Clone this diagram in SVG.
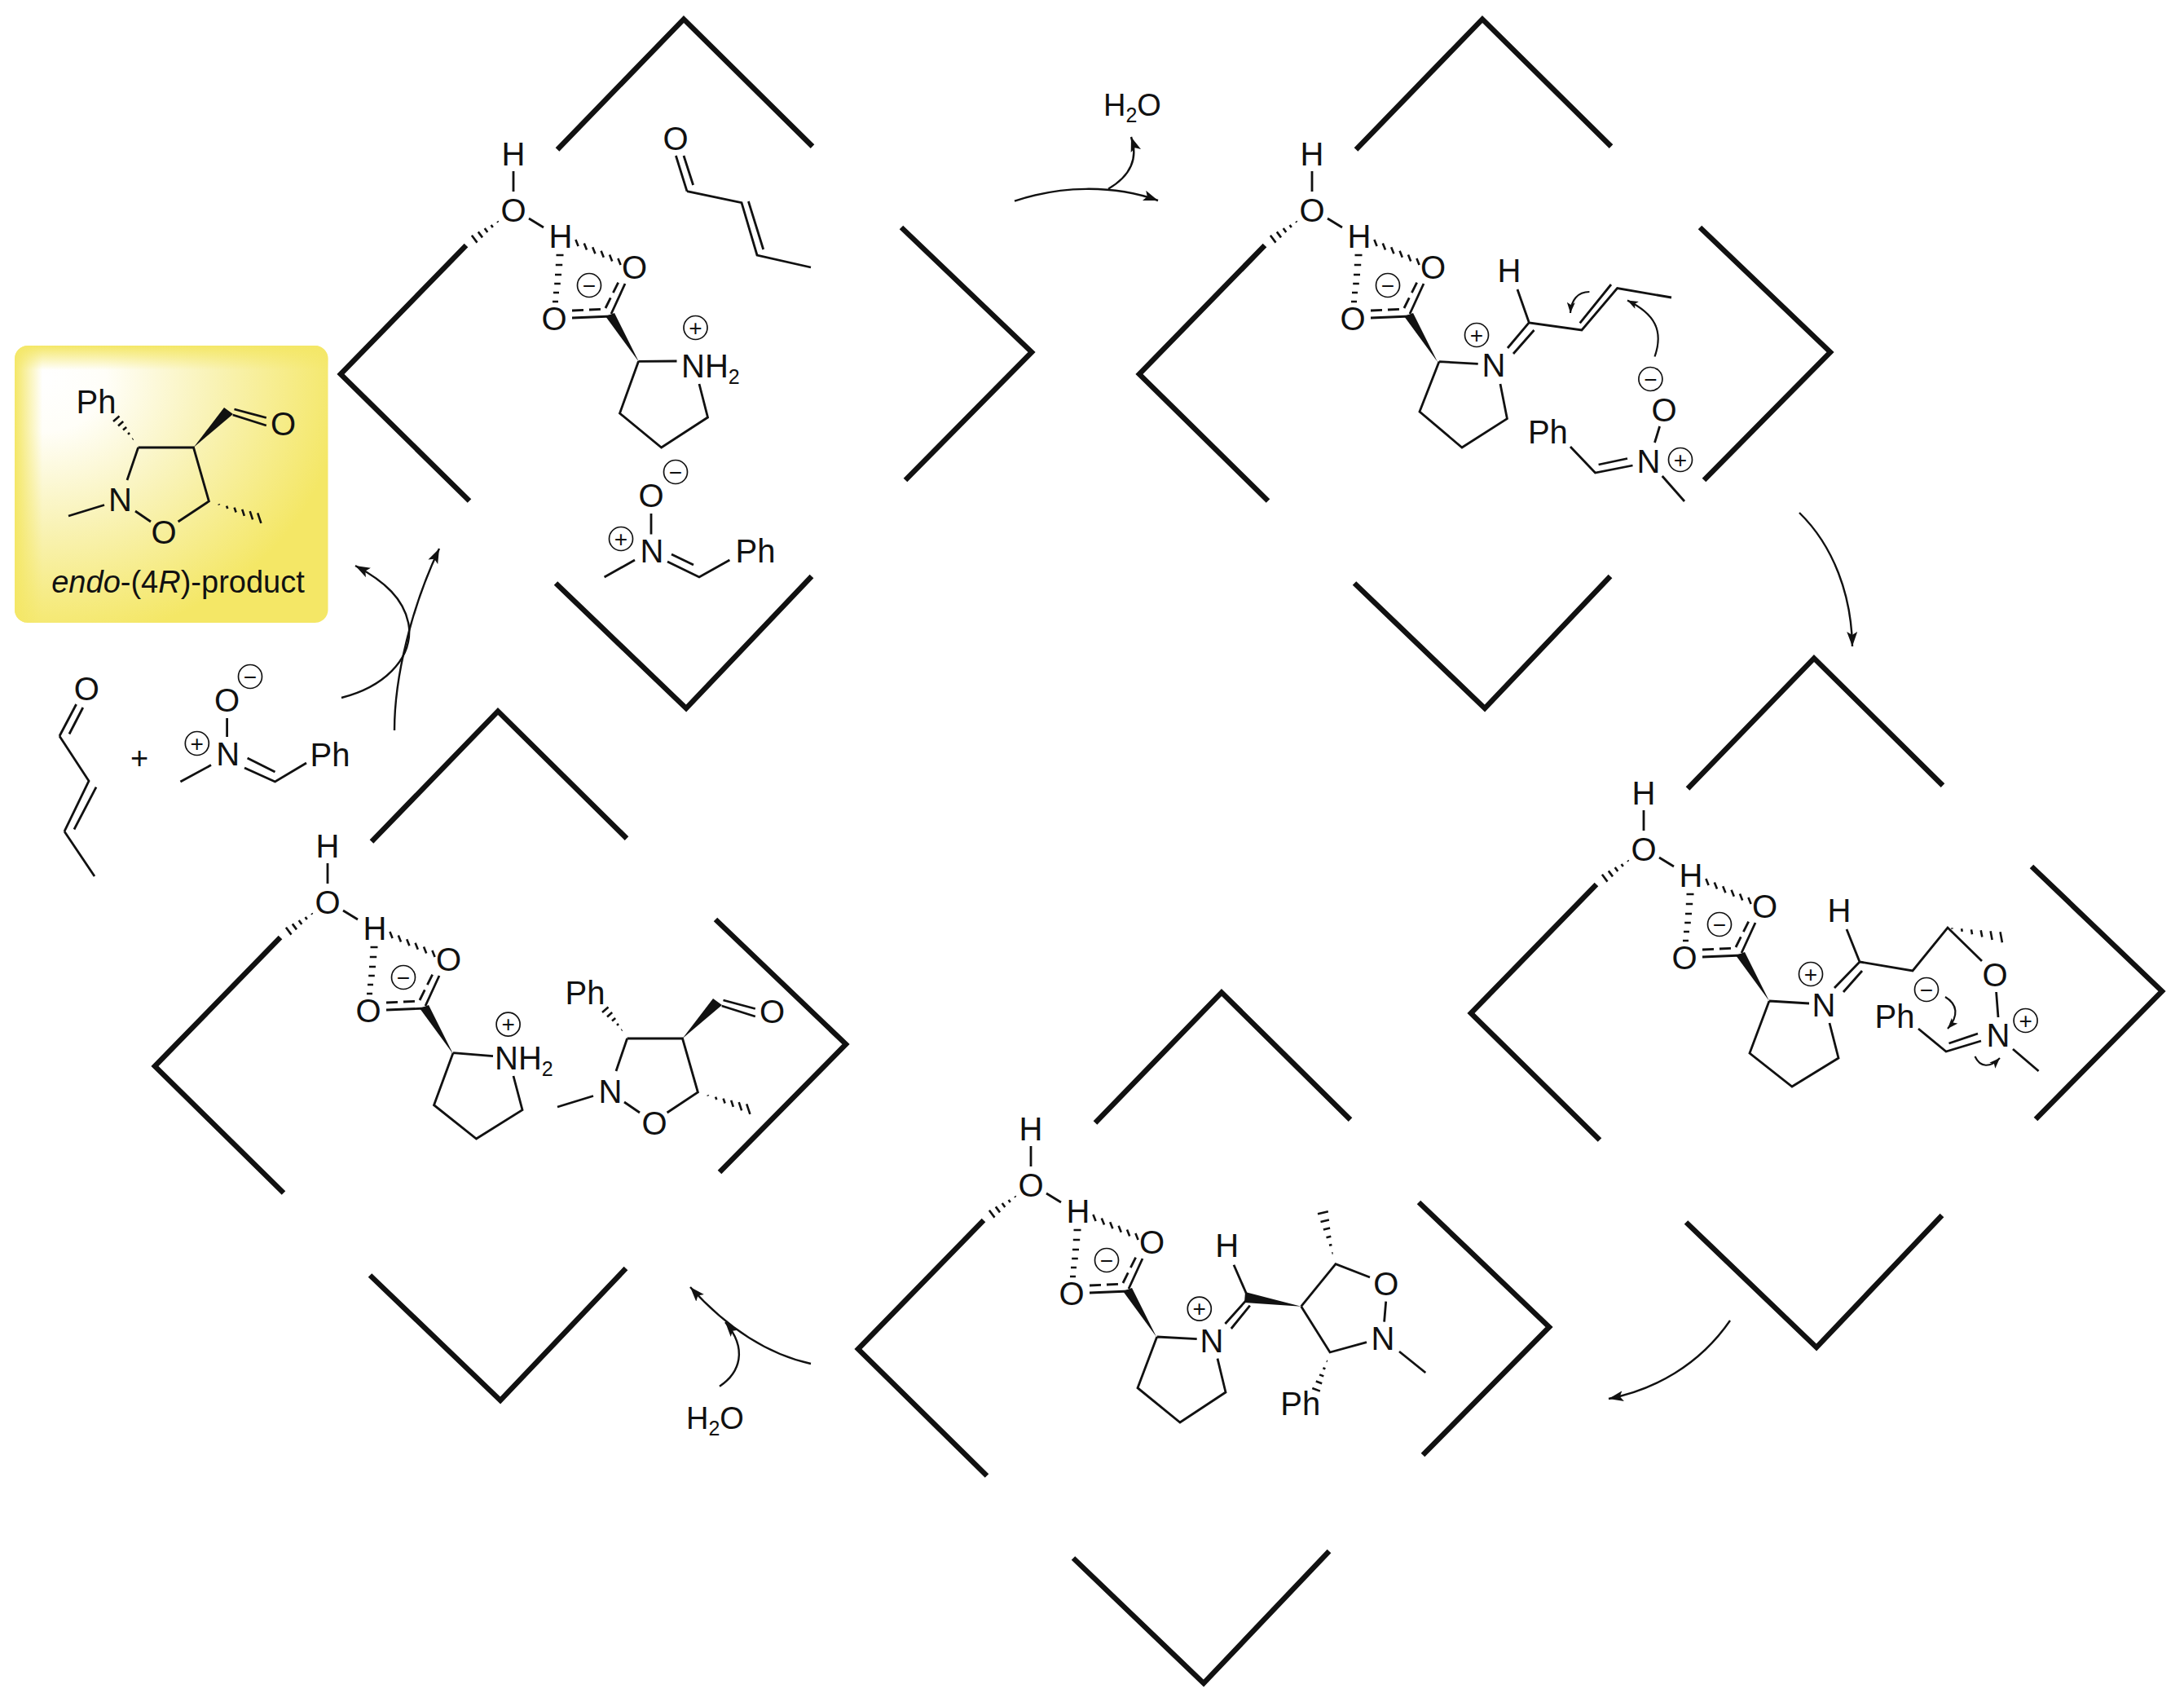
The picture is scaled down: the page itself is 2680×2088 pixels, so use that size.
<svg xmlns="http://www.w3.org/2000/svg" width="2680" height="2088" viewBox="0 0 2680 2088">
<style>
text{font-family:"Liberation Sans",Arial,Helvetica,sans-serif;fill:#111}
.t{font-size:40px;text-anchor:middle}
.s{font-size:40px}
.f{font-size:38px}
.sub{font-size:25px}
.q{font-size:28px;text-anchor:middle;transform:translateY(2px)}
.p{font-size:38px;text-anchor:middle}
.plus{font-size:38px;text-anchor:middle}
.c{fill:none;stroke:#111;stroke-width:1.7}
.b{fill:none;stroke:#111;stroke-width:2.8;stroke-linecap:butt;stroke-linejoin:miter}
.h{fill:none;stroke:#111;stroke-width:2.6}
.d{fill:none;stroke:#111;stroke-width:2.8;stroke-dasharray:14 7}
.k{fill:none;stroke:#111;stroke-width:6.5;stroke-linejoin:miter;stroke-miterlimit:8}
.w{fill:#111;stroke:none}
.a{fill:none;stroke:#111;stroke-width:2.4;marker-end:url(#head)}
.a2{fill:none;stroke:#111;stroke-width:2.2;marker-end:url(#head2)}
</style>
<defs>
<marker id="head" markerUnits="userSpaceOnUse" markerWidth="20" markerHeight="14" refX="18" refY="6.5" orient="auto"><path d="M18,6.5 L0,0 L4,6.5 L0,13 z" fill="#111"/></marker>
<marker id="head2" markerUnits="userSpaceOnUse" markerWidth="14" markerHeight="12" refX="13" refY="5" orient="auto"><path d="M13,5 L0,0 L3,5 L0,10 z" fill="#111"/></marker>
<radialGradient id="glow" cx="0.1" cy="0.12" r="0.95">
<stop offset="0" stop-color="#fff"/><stop offset="0.2" stop-color="#fffef8"/><stop offset="0.55" stop-color="#f9f3b8"/><stop offset="1" stop-color="#f4e766"/>
</radialGradient>
<linearGradient id="edgeL" x1="0" y1="0" x2="1" y2="0"><stop offset="0" stop-color="#f4e766"/><stop offset="1" stop-color="#f4e766" stop-opacity="0"/></linearGradient>
<linearGradient id="edgeT" x1="0" y1="0" x2="0" y2="1"><stop offset="0" stop-color="#f4e766"/><stop offset="1" stop-color="#f4e766" stop-opacity="0"/></linearGradient>
<clipPath id="boxclip"><rect x="18" y="424" width="384.500" height="340" rx="16"/></clipPath>
<path id="brk" class="k" d="M572 301L418 459L576 614.500M1106 279L1266 432L1111 589M682 715.500L842 869L996 707"/>
<path id="brkTop" class="k" d="M684 183.500L839 23.500L997 179.600"/>
<g id="catLines">
<path class="b" d="M630 210V235M649 268L667 279"/>
<path class="h" d="M610.400 271.500L611.200 272.700M602.600 275.900L604.800 278.900M594.700 280.100L598.300 285.100M586.800 284.400L592 291.400M578.900 288.800L585.500 297.600"/>
<path class="h" d="M706.400 294L709.600 302M716.800 298.600L720 306.600M727.200 303.200L730.400 311.200M737.600 307.800L740.800 315.800M748 312.400L751.200 320.400M758.400 317L761.600 325"/>
<path class="h" d="M682.500 313H691.500M681.800 325H690.200M681 337H689M680.200 348H687.800M679 359H686M678 370H685"/>
<path class="b" d="M750 385L767 348M702 390L750 388"/>
<path class="d" d="M743 378L760 344M702 381L743 379"/>
<polygon class="w" points="784,444 743,388 754,384"/>
<circle class="c" cx="723" cy="350" r="14.500"/>
</g>
<g id="prodLines">
<path class="b" d="M169.600 549H237.500L256.400 615L218.600 640M185 640L166 627M156 589L169.600 549M84 633L128 619.500"/>
<path class="b" d="M287.500 502L326.800 512.500M285.700 509L326.800 522"/>
<polygon class="w" points="237.500,549 275,500 286,508"/>
<path class="h" d="M162.500 538.900L163.300 538.300M157 532.900L159.100 531M151 527.500L155.200 524.100M145 522.500L151.200 517M139 516.900L146.500 510.500"/>
<path class="h" d="M268.600 618.300L269 619.500M278.100 620.600L279.300 624M287.600 622.700L289.600 628.500M297.200 624.900L299.800 632.900M306.700 627.100L310.100 637.300M316.200 629.300L320.400 641.900"/>
</g>
</defs>

<g id="product-box">
<rect x="18" y="424" width="384.500" height="340" rx="16" fill="url(#glow)"/>
<g clip-path="url(#boxclip)"><rect x="18" y="424" width="34" height="340" fill="url(#edgeL)"/><rect x="18" y="424" width="385" height="30" fill="url(#edgeT)"/></g>
<use href="#prodLines"/>
<text class="t" x="118" y="507">Ph</text>
<text class="t" x="347.500" y="534">O</text>
<text class="t" x="147.500" y="627">N</text>
<text class="t" x="201" y="667">O</text>
<text class="p" x="218.500" y="727"><tspan font-style="italic">endo</tspan>-(4<tspan font-style="italic">R</tspan>)-product</text>
</g>

<g id="reactants">
<path class="b" d="M73 903L93.600 864M85 900.500L101.800 868M73 903L109 958L79 1020M118 965.600L91 1017.500M79 1020L116 1075"/>
<text class="t" x="106.400" y="858.500">O</text>
<text class="plus" x="171" y="943">+</text>
<path class="b" d="M278.600 881V904M259 938.600L221.400 959M300 942L337.500 959L376 936M303.600 930L337.500 947"/>
<text class="t" x="278.600" y="872.500">O</text>
<text class="t" x="279.600" y="939">N</text>
<text class="t" x="405" y="940">Ph</text>
<circle class="c" cx="307" cy="830" r="14.500"/><text class="q" x="307" y="837.500">−</text>
<circle class="c" cx="241.800" cy="912" r="14.500"/><text class="q" x="241.800" y="919.500">+</text>
</g>

<g id="node-1">
<use href="#brk"/><use href="#brkTop"/><use href="#catLines"/>
<text class="t" x="630" y="203">H</text><text class="t" x="630" y="271.500">O</text><text class="t" x="688" y="303.500">H</text><text class="t" x="778.500" y="341.500">O</text><text class="t" x="680" y="405">O</text><text class="q" x="723" y="357.500">−</text>
<path class="b" d="M843 234.600L829.400 191M850.600 227L839 191M843 234.600L910 248.600L929 313L995 328M918.400 247L936.700 306"/>
<text class="t" x="829" y="183.500">O</text>
<path class="b" d="M783.500 443.300L830.500 443M858 471L868.500 512L811.600 549L760.500 507L783.500 443.300"/>
<text class="s" x="836" y="463">NH<tspan class="sub" dy="8">2</tspan></text>
<circle class="c" cx="853.500" cy="402" r="14.500"/><text class="q" x="853.500" y="409.500">+</text>
<path class="b" d="M799 630V655.500M779 687L741.600 708M819 689L858 708L895.400 687M824 680L851 693"/>
<text class="t" x="799" y="621.500">O</text><text class="t" x="800" y="689.500">N</text><text class="t" x="927" y="689.500">Ph</text>
<circle class="c" cx="829" cy="579" r="14.500"/><text class="q" x="829" y="586.500">−</text>
<circle class="c" cx="762" cy="661" r="14.500"/><text class="q" x="762" y="668.500">+</text>
</g>

<g id="node-2">
<g transform="translate(980,0)"><use href="#brk"/><use href="#brkTop"/><use href="#catLines"/>
<text class="t" x="630" y="203">H</text><text class="t" x="630" y="271.500">O</text><text class="t" x="688" y="303.500">H</text><text class="t" x="778.500" y="341.500">O</text><text class="t" x="680" y="405">O</text><text class="q" x="723" y="357.500">−</text></g>
<path class="b" d="M1766 443.600L1813.700 446.400M1841 471L1849.400 513.600L1794 549L1742 505L1766 443.600"/>
<text class="t" x="1833" y="461.500">N</text>
<circle class="c" cx="1812" cy="411" r="14.500"/><text class="q" x="1812" y="418.500">+</text>
<path class="b" d="M1850 427L1876.400 395.700M1857 434L1882.500 405M1862 355L1876.400 396L1941 405L1984.600 353.600L2051 365M1938.700 396.400L1977 349"/>
<text class="t" x="1852" y="345.500">H</text>
<path class="a2" d="M1950.400 358C1936 358 1928 368 1927 384"/>
<path class="a2" d="M2030.500 437.500C2042 405 2030 385 1997 368.600"/>
<circle class="c" cx="2025.400" cy="465" r="14.500"/><text class="q" x="2025.400" y="472.500">−</text>
<text class="t" x="2042" y="516.500">O</text>
<path class="b" d="M2036.600 523L2030.500 543M1927 548L1957.500 580L2003.500 571M1961.600 570L1997 562.500M2039.700 584L2067 615"/>
<text class="t" x="2023" y="579.500">N</text>
<circle class="c" cx="2062" cy="564" r="14.500"/><text class="q" x="2062" y="571.500">+</text>
<text class="t" x="1899.400" y="543.500">Ph</text>
</g>

<g id="node-3">
<g transform="translate(1387,784)"><use href="#brk"/><use href="#brkTop"/><use href="#catLines"/>
<text class="t" x="630" y="203">H</text><text class="t" x="630" y="271.500">O</text><text class="t" x="688" y="303.500">H</text><text class="t" x="778.500" y="341.500">O</text><text class="t" x="680" y="405">O</text><text class="q" x="723" y="357.500">−</text></g>
<path class="b" d="M2171 1228L2220 1231M2245 1255L2256 1298L2199 1333L2147 1292L2171 1228"/>
<text class="t" x="2238" y="1246.500">N</text>
<circle class="c" cx="2222" cy="1195" r="14.500"/><text class="q" x="2222" y="1202.500">+</text>
<path class="b" d="M2251 1212L2282 1180M2262 1217L2285 1191M2266 1140L2282 1180L2347 1191L2390 1138L2432 1179"/>
<text class="t" x="2257" y="1130.500">H</text>
<path class="h" d="M2395.300 1138.400L2395.500 1139.600M2407.100 1139.300L2407.700 1142.900M2419 1140.400L2420 1146.200M2430.700 1141.300L2432.300 1149.500M2442.600 1142.300L2444.600 1152.900M2454.500 1143.300L2456.900 1156.300"/>
<text class="t" x="2448" y="1209.500">O</text>
<path class="b" d="M2449.600 1217L2452 1248M2354 1262L2388 1290L2431 1277M2391.500 1280L2427 1268M2470 1287L2501.600 1314"/>
<text class="t" x="2452" y="1283.500">N</text>
<circle class="c" cx="2485.600" cy="1252" r="14.500"/><text class="q" x="2485.600" y="1259.500">+</text>
<text class="t" x="2325" y="1260.500">Ph</text>
<circle class="c" cx="2364" cy="1214" r="14.500"/><text class="q" x="2364" y="1221.500">−</text>
<path class="a2" d="M2387 1223C2402 1232 2404 1246 2390 1262"/>
<path class="a2" d="M2423.500 1296C2430 1310 2442 1310 2454 1298"/>
</g>

<g id="node-4">
<g transform="translate(635,1196)"><use href="#brk"/><use href="#catLines"/>
<text class="t" x="630" y="203">H</text><text class="t" x="630" y="271.500">O</text><text class="t" x="688" y="303.500">H</text><text class="t" x="778.500" y="341.500">O</text><text class="t" x="680" y="405">O</text><text class="q" x="723" y="357.500">−</text></g>
<use href="#brkTop" transform="translate(660,1194)"/>
<path class="b" d="M1419.700 1640L1468.700 1642.700M1494 1666.700L1504 1708L1448 1745L1396 1702.700L1419.700 1640"/>
<text class="t" x="1487" y="1658.500">N</text>
<circle class="c" cx="1471.800" cy="1605.700" r="14.500"/><text class="q" x="1471.800" y="1613.200">+</text>
<path class="b" d="M1503.400 1624L1529.400 1595M1510.800 1630L1533.800 1601.700M1514 1551.700L1529.400 1587"/>
<text class="t" x="1505.600" y="1541.500">H</text>
<polygon class="w" points="1596.700,1602.700 1528,1585 1527,1598"/>
<path class="b" d="M1596.700 1602.700L1639 1550.700L1681 1567M1700.700 1596.700L1698.600 1621.700M1677 1646.700L1632 1659L1596.700 1602.700M1717 1658L1749.300 1684"/>
<path class="h" d="M1634.400 1537.400L1635.600 1537.200M1631 1527.800L1634.400 1527M1627.500 1518.200L1633.300 1516.800M1623.900 1508.600L1632.100 1506.600M1620.500 1498.900L1630.900 1496.500M1617 1489.300L1629.800 1486.300"/>
<path class="h" d="M1627.800 1669.700L1628.800 1670.100M1623.400 1678.200L1626.400 1679.400M1619.100 1686.400L1624.300 1688.400M1614.800 1694.500L1622.200 1697.300M1610.300 1703L1619.900 1706.600"/>
<text class="t" x="1700.700" y="1589">O</text><text class="t" x="1697" y="1656">N</text><text class="t" x="1595.800" y="1736">Ph</text>
</g>

<g id="node-5">
<g transform="translate(-228,849)"><use href="#brk"/><use href="#brkTop"/><use href="#catLines"/>
<text class="t" x="630" y="203">H</text><text class="t" x="630" y="271.500">O</text><text class="t" x="688" y="303.500">H</text><text class="t" x="778.500" y="341.500">O</text><text class="t" x="680" y="405">O</text><text class="q" x="723" y="357.500">−</text></g>
<path class="b" d="M556 1291.700L605 1295.700M630 1320L641 1361.700L584.500 1397L532.500 1355.700L556 1291.700"/>
<text class="s" x="607" y="1312">NH<tspan class="sub" dy="8">2</tspan></text>
<circle class="c" cx="623.600" cy="1256.700" r="14.500"/><text class="q" x="623.600" y="1264.200">+</text>
<g transform="translate(600,725)"><use href="#prodLines"/>
<text class="t" x="118" y="507">Ph</text><text class="t" x="347.500" y="530">O</text><text class="t" x="149" y="628">N</text><text class="t" x="203" y="667">O</text></g>
</g>

<g id="connectors">
<path class="a" d="M419 856C470 843 505 810 502 770C498 735 470 712 436 694"/>
<path class="a" d="M484 896C484 830 505 745 539 673"/>
<path class="a" d="M1245 246.700C1300 228 1365 226 1421 246"/>
<path class="a" d="M1360 231.700C1385 217 1398 197 1388 168"/>
<text class="f" x="1354" y="141.500">H<tspan class="sub" dy="8">2</tspan><tspan dy="-8">O</tspan></text>
<path class="a" d="M2208 629C2250 670 2272 730 2273 793"/>
<path class="a" d="M2123 1620C2085 1675 2030 1705 1974 1716"/>
<path class="a" d="M995 1673C945 1662 895 1632 847 1579"/>
<path class="a" d="M883 1700.700C908 1684 918 1655 890 1622"/>
<text class="f" x="842" y="1753">H<tspan class="sub" dy="8">2</tspan><tspan dy="-8">O</tspan></text>
</g>
</svg>
